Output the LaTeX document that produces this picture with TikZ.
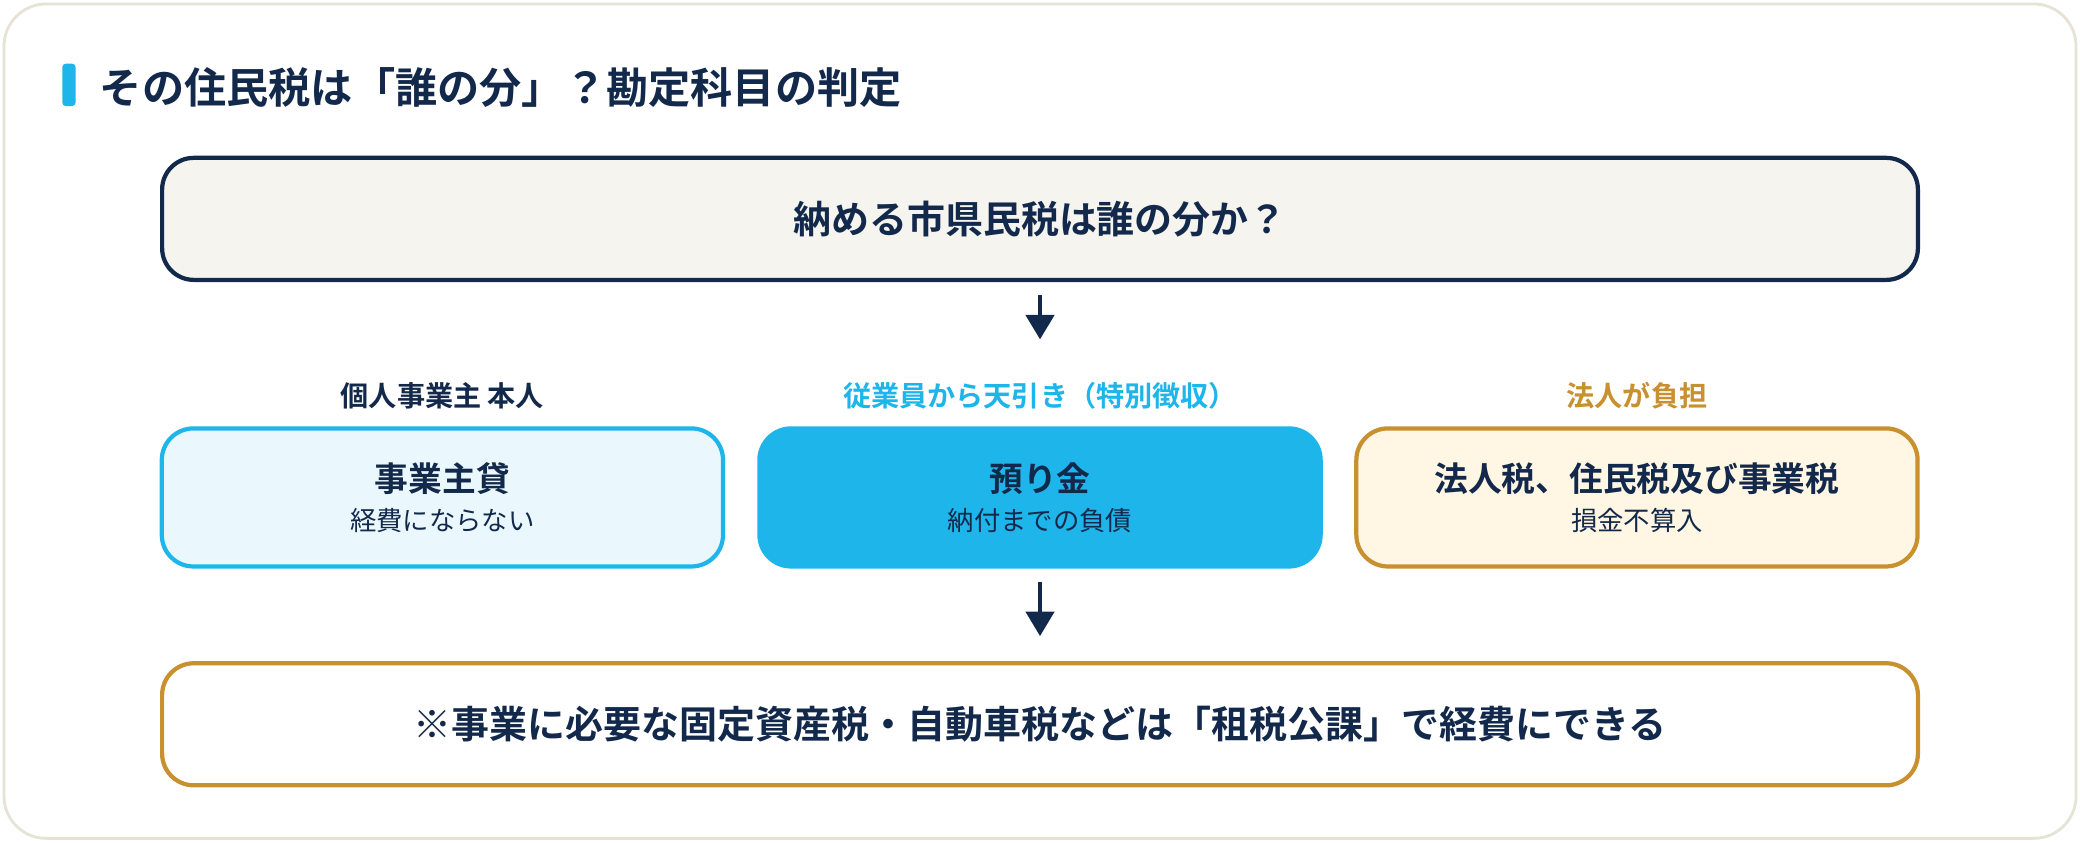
\documentclass[tikz,border=0pt]{standalone}
\usepackage{fontspec}
\setmainfont{Noto Sans CJK JP}[BoldFont={Noto Sans CJK JP Bold}]
\usetikzlibrary{positioning,arrows.meta}
\definecolor{navy}{HTML}{13294B}
\definecolor{sky}{HTML}{1EB6EA}
\definecolor{skylight}{HTML}{EAF8FD}
\definecolor{gold}{HTML}{C8902E}
\definecolor{goldlight}{HTML}{FFF6E3}
\definecolor{paper}{HTML}{F5F4EF}
\definecolor{frame}{HTML}{E6E3D6}
\tikzset{
  box/.style={draw, rounded corners=9pt, line width=1.2pt, minimum width=5.61cm, minimum height=1.38cm, align=center, text=navy},
  head/.style={font=\bfseries\fontsize{10.8}{12}\selectfont},
  tag/.style={font=\bfseries\fontsize{8}{9}\selectfont},
  flow/.style={-{Triangle[length=7pt,width=8pt]}, line width=1.3pt, navy}
}
\newcommand{\boxtext}[2]{{\bfseries\fontsize{9.6}{11}\selectfont #1}\\[-1pt]{\fontsize{7.5}{9}\selectfont #2}}
\begin{document}
\begin{tikzpicture}[x=0.013265cm,y=-0.013265cm]
% frame
\useasboundingbox (0,0) rectangle (1568,635);
\draw[frame, fill=white, rounded corners=12pt, line width=0.8pt] (3,3) rectangle (1565,632);
% title
\fill[sky, rounded corners=1pt] (47,48) rectangle (57,80);
\node[anchor=west, text=navy, font=\bfseries\fontsize{12}{14}\selectfont] (title) at (66,66) {その住民税は「誰の分」？勘定科目の判定};
% question
\node[box, fill=paper, draw=navy, minimum width=17.55cm, minimum height=1.22cm, head] (q) at (784,165) {納める市県民税は誰の分か？};
% three cases
\node[box, fill=skylight, draw=sky] (owner) at (333.5,375) {\boxtext{事業主貸}{経費にならない}};
\node[box, fill=sky, draw=sky] (staff) at (784,375) {\boxtext{預り金}{納付までの負債}};
\node[box, fill=goldlight, draw=gold] (corp) at (1234,375) {\boxtext{法人税、住民税及び事業税}{損金不算入}};
\node[tag, text=navy, above=0.05cm of owner] (ownertag) {個人事業主 本人};
\node[tag, text=sky, above=0.05cm of staff] (stafftag) {従業員から天引き（特別徴収）};
\node[tag, text=gold, above=0.05cm of corp] (corptag) {法人が負担};
% note
\node[box, fill=white, draw=gold, minimum width=17.55cm, minimum height=1.22cm, head] (note) at (784,546) {※事業に必要な固定資産税・自動車税などは「租税公課」で経費にできる};
% arrows
\draw[flow] ([yshift=-0.13cm]q.south) -- ([yshift=0.3cm]stafftag.north);
\draw[flow] ([yshift=-0.13cm]staff.south) -- ([yshift=0.25cm]note.north);
\end{tikzpicture}
\end{document}
